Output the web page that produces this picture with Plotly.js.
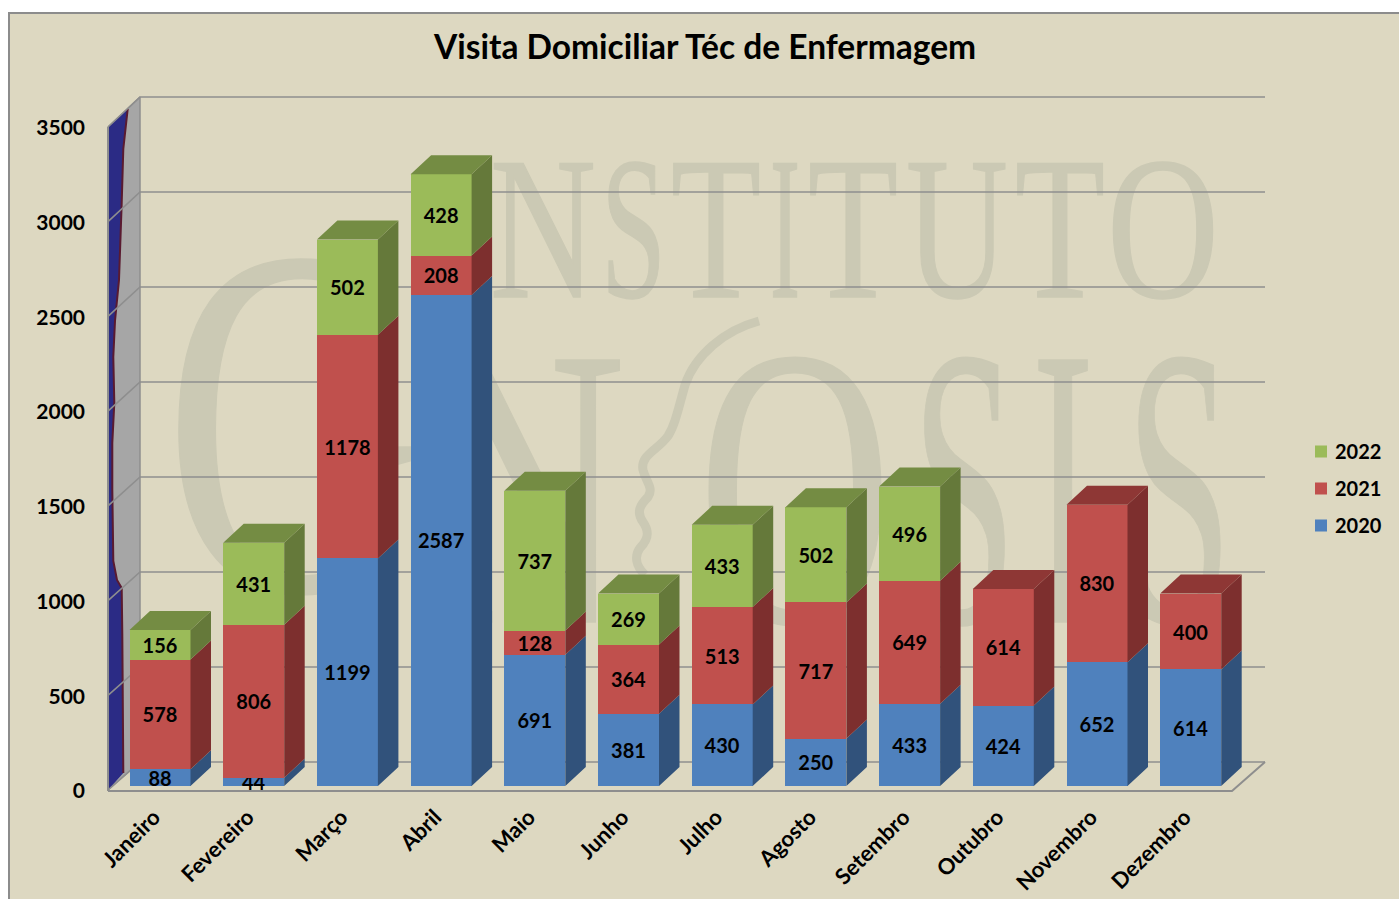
<!DOCTYPE html>
<html>
<head>
<meta charset="utf-8">
<script src="https://cdn.plot.ly/plotly-3.0.1.min.js"></script>
<style>
html,body{margin:0;padding:0;background:#fff;width:1399px;height:899px;overflow:hidden}
#bg{position:absolute;left:8px;top:12px;width:1391px;height:887px;background:#DDD8C1;box-sizing:border-box;border-left:2px solid #8C8C8C;border-top:2px solid #8C8C8C}
#wm{position:absolute;left:0;top:0;width:1399px;height:899px}
#chart{position:absolute;left:0;top:0;width:1399px;height:899px}
</style>
</head>
<body>
<div id="bg"></div>
<svg id="wm" xmlns="http://www.w3.org/2000/svg"></svg>
<div id="chart"></div>
<script>
// ---------- data ----------
const months = ['Janeiro','Fevereiro','Março','Abril','Maio','Junho','Julho','Agosto','Setembro','Outubro','Novembro','Dezembro'];
const v2020 = [88,44,1199,2587,691,381,430,250,433,424,652,614];
const v2021 = [578,806,1178,208,128,364,513,717,649,614,830,400];
const v2022 = [156,431,502,428,737,269,433,502,496,null,null,null];
const yTicks = [0,500,1000,1500,2000,2500,3000,3500];

// ---------- geometry (pixels on the 1399x899 page) ----------
const plot = {l:86, r:1300, t:80, b:799};
const xStep = 93.7, xZero = 160;          // pixels per category, centre of the first bar
const pxPerUnit = 663/3500;               // vertical scale of the wall labels
const barPxPerUnit = 0.1898;              // vertical scale of the bars
const backPxPerUnit = 0.19;               // vertical scale of the back wall
const frontZero = 791, barZero = 786;     // pixel row of value 0: wall labels, bar base
const barW = 61/xStep, depthX = 20.5/xStep, depthY = 19/barPxPerUnit;
const X = p => (p-xZero)/xStep;
const Y = p => (frontZero-p)/pxPerUnit;
const range = (zero,s) => [(zero-plot.b)/s, (zero-plot.t)/s];

const colors = {
  2020:{front:'#4F81BD', side:'#31527B', top:'#3E6797'},
  2021:{front:'#C0504D', side:'#7D2F2E', top:'#8E3735'},
  2022:{front:'#9BBB59', side:'#65793A', top:'#748C43'}
};
const series = [[2020,v2020],[2021,v2021],[2022,v2022]];

// ---------- watermark (logo text behind the plot) ----------
const wmColor = '#CBC9B4';
const wmLetters = [
  ['I',440,480,297,203],['N',490,596,297,203],['S',601,666,297,203],['T',671,761,297,203],['I',770,800,297,203],
  ['T',808,898,297,203],['U',906,1008,297,203],['T',1015,1105,297,203],['O',1107,1219,297,203],
  ['G',164,424,590,500],['N',420,626,622,400],['O',698,892,622,400],['S',912,1016,622,400],['I',1032,1094,622,400],['S',1126,1232,622,400]
];
const svgNS = 'http://www.w3.org/2000/svg';
const wm = document.getElementById('wm');
wmLetters.forEach(([c,x0,x1,base,size])=>{
  const t = document.createElementNS(svgNS,'text');
  t.textContent = c;
  t.setAttribute('x',x0); t.setAttribute('y',base);
  t.setAttribute('textLength',x1-x0);
  t.setAttribute('lengthAdjust','spacingAndGlyphs');
  t.setAttribute('font-family','Liberation Serif');
  t.setAttribute('font-size',size);
  t.setAttribute('fill',wmColor);
  t.setAttribute('stroke',wmColor);
  t.setAttribute('stroke-width','1.5');
  wm.appendChild(t);
});
const swoosh = document.createElementNS(svgNS,'path');
swoosh.setAttribute('d','M759 321 C725 330 695 355 685 385 C678 410 675 425 668 436 C658 450 640 455 643 470 C646 482 654 488 648 497 C640 505 636 512 643 522 C650 532 648 540 640 548 C634 556 636 566 645 575');
swoosh.setAttribute('fill','none'); swoosh.setAttribute('stroke',wmColor); swoosh.setAttribute('stroke-width','9');
wm.appendChild(swoosh);

// ---------- helper: polygons built from the values ----------
const poly = (xs,ys,pts)=>{ pts.forEach(p=>{xs.push(p[0]);ys.push(p[1]);}); xs.push(pts[0][0],null); ys.push(pts[0][1],null); };
const traces = [];

// ---------- walls, floor, gridlines on the wall axis (y) ----------
const wallBack = {l:X(140), r:X(1265)};
const wallFront = {l:X(108), r:X(1232)};
const fillPoly = (pts,fill,line,w)=>({type:'scatter',mode:'lines',x:pts.map(p=>X(p[0])),y:pts.map(p=>Y(p[1])),fill:'toself',fillcolor:fill,
  line:{color:line,width:w},hoverinfo:'skip',showlegend:false,xaxis:'x',yaxis:'y'});
traces.push(fillPoly([[108,127],[140,97],[140,762],[108,790],[108,127]],'#A6A6A6','#8E8E8E',1.5));
const curveUp = [[127.7,109],[123.3,149],[121.7,203],[119,280],[115,321],[113.3,357],[114.3,403],[112.3,443],[112.3,489],[113.3,561],[117,580],[121.7,588],[122.3,634],[123.3,773]];
traces.push(fillPoly([[108,127],...curveUp,[108,790],[108,127]],'#2B2B85','rgba(0,0,0,0)',0));
traces.push({type:'scatter',mode:'lines',x:curveUp.map(p=>X(p[0])),y:curveUp.map(p=>Y(p[1])),line:{color:'#5A1A30',width:2},hoverinfo:'skip',showlegend:false,xaxis:'x',yaxis:'y'});
const gx=[], gy=[];
yTicks.forEach(v=>{
  const back = Y(762-v*backPxPerUnit);
  gx.push(wallFront.l,wallBack.l,wallBack.r,null);
  gy.push(Y(790-v*pxPerUnit),back,back,null);
});
traces.push({type:'scatter',mode:'lines',x:gx,y:gy,line:{color:'#8E8E8E',width:1.6},hoverinfo:'skip',showlegend:false,xaxis:'x',yaxis:'y'});
traces.push({type:'scatter',mode:'lines',
  x:[wallFront.l,wallFront.r,wallBack.r],y:[Y(791),Y(791),Y(762)],
  line:{color:'#8E8E8E',width:2},hoverinfo:'skip',showlegend:false,xaxis:'x',yaxis:'y'});
traces.push({type:'scatter',mode:'lines',x:[wallFront.l,wallFront.l],y:[Y(127),Y(791)],line:{color:'#8E8E8E',width:2},hoverinfo:'skip',showlegend:false,xaxis:'x',yaxis:'y'});

// ---------- stacked bars on the bar axis (y2) ----------
const xs = months.map((_,i)=>i);
series.forEach(([yr,vals],k)=>{
  traces.push({type:'bar',name:String(yr),legendgroup:String(yr),legendrank:3-k,x:xs,y:vals,width:barW,
    marker:{color:colors[yr].front,line:{width:0}},
    text:vals.map(v=>v==null?'':String(v)),textposition:'inside',insidetextanchor:'middle',
    constraintext:'none',textangle:0,
    textfont:{family:'Lato, "Noto Sans", sans-serif',size:20,color:'#000',weight:700},
    hoverinfo:'x+y',xaxis:'x',yaxis:'y2'});
});

// ---------- side and top faces derived from the stacks ----------
const stackBase = months.map(()=>0);
series.forEach(([yr,vals])=>{
  const sx=[],sy=[],tx=[],ty=[];
  vals.forEach((v,i)=>{
    if(v==null) return;
    const a=stackBase[i], b=a+v, R=i+barW/2, L=i-barW/2;
    poly(sx,sy,[[R,a],[R+depthX,a+depthY],[R+depthX,b+depthY],[R,b]]);
    stackBase[i]=b;
    const isTop = series.slice(series.findIndex(s=>s[0]===yr)+1).every(s=>s[1][i]==null);
    if(isTop) poly(tx,ty,[[L,b],[L+depthX,b+depthY],[R+depthX,b+depthY],[R,b]]);
  });
  [[sx,sy,colors[yr].side],[tx,ty,colors[yr].top]].forEach(([px,py,c])=>{
    if(px.length) traces.push({type:'scatter',mode:'lines',x:px,y:py,fill:'toself',fillcolor:c,line:{width:0,color:c},
      hoverinfo:'skip',showlegend:false,xaxis:'x',yaxis:'y2'});
  });
});

const labelFont = {family:'Lato, "Noto Sans", sans-serif',size:21,color:'#000',weight:700};
const layout = {
  width:1399,height:899,autosize:false,
  paper_bgcolor:'rgba(0,0,0,0)',plot_bgcolor:'rgba(0,0,0,0)',
  margin:{l:plot.l,r:1399-plot.r,t:plot.t,b:899-plot.b,pad:0,autoexpand:false},
  title:{text:'Visita Domiciliar Téc de Enfermagem',x:705/1399,xanchor:'center',xref:'container',y:1-47/899,yref:'container',yanchor:'middle',
    font:{family:'Lato, "Noto Sans", sans-serif',size:33.5,color:'#000',weight:700}},
  barmode:'stack',hovermode:false,
  xaxis:{range:[X(plot.l),X(plot.r)],tickmode:'array',tickvals:xs,ticktext:months,tickangle:-45,ticklabelshift:-6,
    showgrid:false,zeroline:false,showline:false,ticks:'',tickfont:{...labelFont,size:22},automargin:false},
  yaxis:{range:range(frontZero,pxPerUnit),tickmode:'array',tickvals:yTicks,ticktext:yTicks.map(String),
    showgrid:false,zeroline:false,showline:false,ticks:'',tickfont:labelFont,automargin:false},
  yaxis2:{range:range(barZero,barPxPerUnit),overlaying:'y',visible:false,showgrid:false,zeroline:false},
  showlegend:true,
  legend:{x:(1301-plot.l)/(plot.r-plot.l),xanchor:'left',y:1-(432-plot.t)/(plot.b-plot.t),yanchor:'top',
    font:{family:'Lato, "Noto Sans", sans-serif',size:20,color:'#000',weight:700},
    tracegroupgap:8,traceorder:'grouped',bgcolor:'rgba(0,0,0,0)',borderwidth:0,itemclick:false,itemdoubleclick:false}
};
Plotly.newPlot('chart',traces,layout,{displayModeBar:false,staticPlot:true}).then(()=>{
  // the reference sets its legend labels closer to the colour keys
  document.querySelectorAll('#chart .legend .legendtext').forEach(t=>{
    t.setAttribute('x',(+t.getAttribute('x'))-6);
  });
});
</script>
</body>
</html>
